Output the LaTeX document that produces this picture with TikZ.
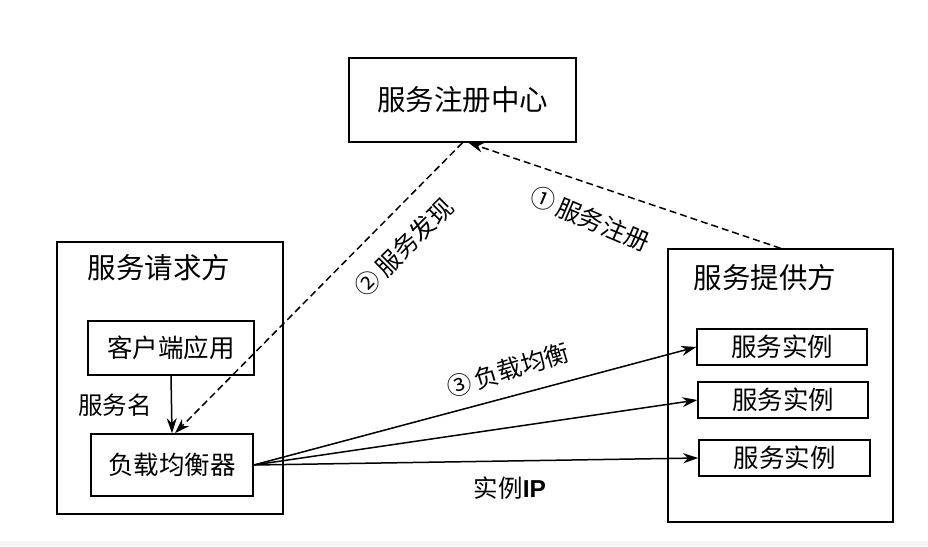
\documentclass[tikz,border=0pt]{standalone}
\usepackage{fontspec}
\newfontfamily\cjk{Noto Sans CJK SC}
\newfontfamily\lsans{Liberation Sans}
\usetikzlibrary{arrows.meta}
\tikzset{
  box/.style={draw, line width=1.5pt, inner sep=0pt, align=center},
  big/.style={font=\cjk\fontsize{28.5}{31}\selectfont},
  mid/.style={font=\cjk\fontsize{25.5}{28}\selectfont},
  link/.style={line width=1.5pt, -{Stealth[length=15pt,width=10pt]}},
  dlink/.style={link, dash pattern=on 7pt off 4pt},
  lbl/.style={font=\cjk\fontsize{24.5}{27}\selectfont, inner sep=0pt}
}
\begin{document}
\begin{tikzpicture}[x=1pt,y=-1pt]
\useasboundingbox (0,0) rectangle (928,546);
\fill[gray!8] (0,541) rectangle (928,546);
% boxes
\node[box, big, minimum width=227pt, minimum height=84pt] (reg) at (462.5,100) {服务注册中心};
\node[box, minimum width=226pt, minimum height=272pt] (req) at (170,378) {};
\node[big, inner sep=0pt] (reqt) at (159,268) {服务请求方};
\node[box, mid, minimum width=166pt, minimum height=54pt] (cli) at (171,348) {客户端应用};
\node[box, mid, minimum width=162pt, minimum height=62pt] (lb) at (172,465) {负载均衡器};
\node[box, minimum width=225pt, minimum height=273pt] (prov) at (780.5,385.5) {};
\node[big, inner sep=0pt] (provt) at (765,278) {服务提供方};
\node[box, mid, minimum width=170pt, minimum height=36pt] (i1) at (782,347) {服务实例};
\node[box, mid, minimum width=170pt, minimum height=36pt] (i2) at (783,400) {服务实例};
\node[box, mid, minimum width=171pt, minimum height=36pt] (i3) at (784.5,458) {服务实例};
% connectors
\coordinate (regin) at ([xshift=6pt]reg.south);
\coordinate (regout) at (reg.south);
\coordinate (lbin) at ([xshift=3pt]lb.north);
\draw[dlink] (prov.north) -- (regin);
\draw[dlink] (regout) -- (lbin);
\draw[link] (cli.south) -- (lb.north);
\draw[link] (lb.east) -- (i1.west);
\draw[link] (lb.east) -- (i2.west);
\draw[link] (lb.east) -- (i3.west);
% labels
\node[lbl, rotate=45] (ldisc) at (404,247) {②\,服务发现};
\node[lbl, rotate=-23] (lreg) at (590,219) {①\,服务注册};
\node[lbl, rotate=17] (llb) at (508,370) {③\,负载均衡};
\node[lbl] (lname) at (115,405) {服务名};
\node[lbl] (lip) at (510,488) {实例{\lsans\bfseries IP}};
\end{tikzpicture}
\end{document}
